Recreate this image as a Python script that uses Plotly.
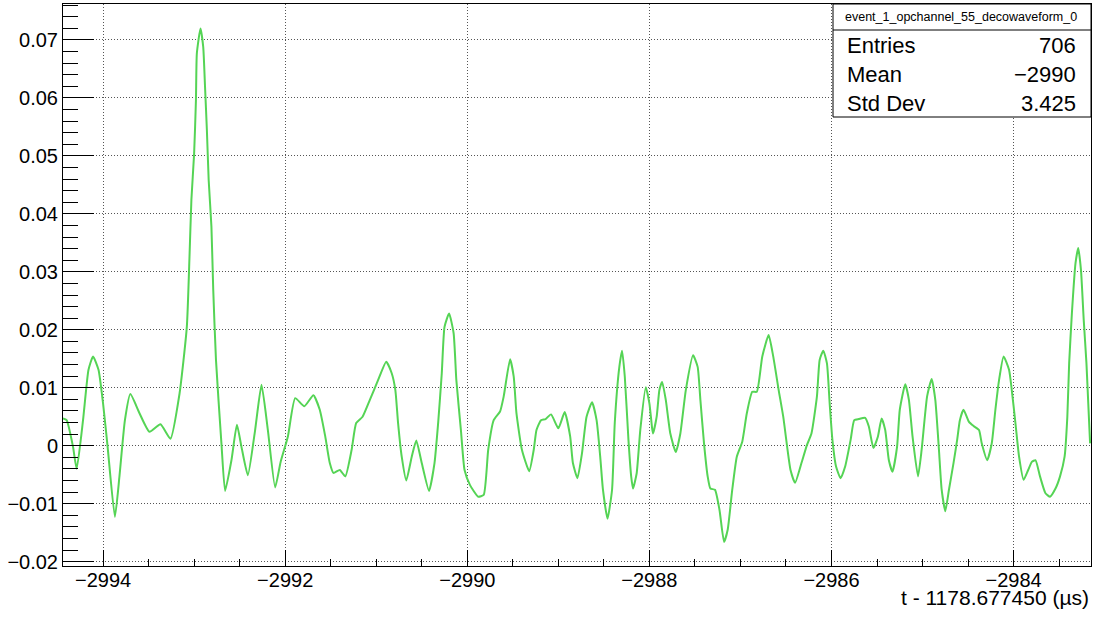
import plotly.graph_objects as go

# ---- data ----
t_us = [
    -2994.44, -2994.40, -2994.33, -2994.29, -2994.22, -2994.16, -2994.11, -2994.05, -2994.00, -2993.95,
    -2993.87, -2993.82, -2993.76, -2993.70, -2993.60, -2993.49, -2993.37, -2993.26, -2993.16, -2993.08,
    -2993.05, -2993.03, -2993.00, -2992.98, -2992.97, -2992.93, -2992.90, -2992.88, -2992.86, -2992.84,
    -2992.81, -2992.79, -2992.76, -2992.70, -2992.66, -2992.59, -2992.53, -2992.48, -2992.41,
    -2992.33, -2992.26, -2992.19, -2992.11, -2992.05, -2991.97, -2991.89, -2991.79, -2991.69, -2991.62,
    -2991.56, -2991.51, -2991.47, -2991.40, -2991.34, -2991.27, -2991.22, -2991.15, -2991.07, -2990.98,
    -2990.89, -2990.83, -2990.79, -2990.76, -2990.72, -2990.67, -2990.61, -2990.56, -2990.50, -2990.42,
    -2990.36,
    -2990.32, -2990.28, -2990.25, -2990.20, -2990.15, -2990.12, -2990.07, -2990.03, -2989.97, -2989.88,
    -2989.82, -2989.77, -2989.71, -2989.64, -2989.60, -2989.53, -2989.49, -2989.46, -2989.40, -2989.32,
    -2989.27, -2989.24, -2989.19, -2989.14, -2989.08, -2989.00, -2988.93, -2988.87, -2988.84, -2988.79,
    -2988.74, -2988.69, -2988.63, -2988.58, -2988.54, -2988.51, -2988.46, -2988.41, -2988.38, -2988.33,
    -2988.30, -2988.27, -2988.23, -2988.20, -2988.18, -2988.14, -2988.10, -2988.04, -2988.00, -2987.97,
    -2987.96, -2987.92, -2987.89, -2987.86, -2987.82, -2987.77, -2987.71, -2987.66, -2987.60, -2987.52,
    -2987.47, -2987.44, -2987.40, -2987.36, -2987.33, -2987.28, -2987.23, -2987.18, -2987.14, -2987.09,
    -2987.04, -2986.98, -2986.93, -2986.87, -2986.82, -2986.76, -2986.69, -2986.64, -2986.58, -2986.53,
    -2986.45,
    -2986.40, -2986.33, -2986.27, -2986.22, -2986.16, -2986.13, -2986.09, -2986.05, -2986.02, -2985.99,
    -2985.95, -2985.90, -2985.85, -2985.79, -2985.75, -2985.70, -2985.63, -2985.59, -2985.54, -2985.49,
    -2985.45, -2985.41, -2985.37, -2985.33, -2985.28, -2985.25, -2985.19, -2985.15, -2985.11, -2985.05,
    -2985.01, -2984.95, -2984.90, -2984.86, -2984.82, -2984.79, -2984.75, -2984.71, -2984.66, -2984.62,
    -2984.59,
    -2984.55, -2984.49, -2984.44, -2984.38, -2984.35, -2984.29, -2984.24, -2984.20, -2984.16, -2984.11,
    -2984.05, -2984.02, -2983.98, -2983.94, -2983.89, -2983.84, -2983.80, -2983.76, -2983.71, -2983.65,
    -2983.60, -2983.54, -2983.49, -2983.44, -2983.41, -2983.39, -2983.36, -2983.32, -2983.29, -2983.26,
    -2983.23, -2983.20, -2983.18, -2983.16,
]
amplitude = [
    0.0047, 0.0044, -0.0002, -0.0040, 0.0044, 0.0131, 0.0154, 0.0131, 0.0073, -0.0002,
    -0.0123, -0.0053, 0.0044, 0.0089, 0.0056, 0.0024, 0.0037, 0.0012, 0.0090, 0.0205,
    0.0330, 0.0424, 0.0504, 0.0596, 0.0677, 0.0720, 0.0688, 0.0619, 0.0545, 0.0458,
    0.0378, 0.0269, 0.0148, 0.0004, -0.0078, -0.0025, 0.0036, -0.0002, -0.0051,
    0.0027, 0.0105, 0.0027, -0.0072, -0.0028, 0.0016, 0.0082, 0.0068, 0.0087, 0.0062,
    0.0016, -0.0030, -0.0047, -0.0042, -0.0053, -0.0007, 0.0039, 0.0050, 0.0079, 0.0113,
    0.0145, 0.0125, 0.0096, 0.0039, -0.0019, -0.0060, -0.0019, 0.0009, -0.0030, -0.0078,
    -0.0030,
    0.0039, 0.0125, 0.0205, 0.0228, 0.0194, 0.0113, 0.0027, -0.0042, -0.0068, -0.0088,
    -0.0085, -0.0007, 0.0044, 0.0059, 0.0085, 0.0149, 0.0119, 0.0056, -0.0007, -0.0044,
    -0.0007, 0.0027, 0.0044, 0.0046, 0.0054, 0.0030, 0.0058, 0.0016, -0.0030, -0.0056,
    -0.0013, 0.0050, 0.0075, 0.0044, -0.0019, -0.0076, -0.0126, -0.0076, 0.0040, 0.0136,
    0.0164, 0.0119, 0.0010, -0.0053, -0.0074, -0.0048, 0.0027, 0.0101, 0.0073, 0.0030,
    0.0021, 0.0050, 0.0096, 0.0110, 0.0079, 0.0021, -0.0011, 0.0021, 0.0096, 0.0156,
    0.0136, 0.0079, 0.0004, -0.0053, -0.0074, -0.0076, -0.0111, -0.0166, -0.0145, -0.0076,
    -0.0019, 0.0007, 0.0056, 0.0093, 0.0093, 0.0154, 0.0191, 0.0154, 0.0096, 0.0050,
    -0.0042,
    -0.0064, -0.0030, 0.0001, 0.0021, 0.0085, 0.0148, 0.0164, 0.0142, 0.0073, 0.0010,
    -0.0036, -0.0056, -0.0036, 0.0010, 0.0044, 0.0046, 0.0048, 0.0033, -0.0004, 0.0016,
    0.0047, 0.0027, -0.0025, -0.0045, -0.0002, 0.0062, 0.0106, 0.0079, 0.0016, -0.0053,
    -0.0007, 0.0085, 0.0115, 0.0079, -0.0007, -0.0076, -0.0113, -0.0076, -0.0030, 0.0010,
    0.0044,
    0.0062, 0.0041, 0.0034, 0.0027, 0.0004, -0.0025, 0.0004, 0.0062, 0.0113, 0.0154,
    0.0131, 0.0096, 0.0039, -0.0019, -0.0059, -0.0042, -0.0028, -0.0025, -0.0053, -0.0082,
    -0.0088, -0.0074, -0.0053, -0.0019, 0.0050, 0.0142, 0.0228, 0.0315, 0.0341, 0.0303,
    0.0217, 0.0142, 0.0073, 0.0004,
]

x_tick_vals = [-2994, -2992, -2990, -2988, -2986, -2984]
x_tick_text = ["\u22122994", "\u22122992", "\u22122990", "\u22122988", "\u22122986", "\u22122984"]
y_tick_vals = [-0.02, -0.01, 0.0, 0.01, 0.02, 0.03, 0.04, 0.05, 0.06, 0.07]
y_tick_text = ["\u22120.02", "\u22120.01", "0", "0.01", "0.02", "0.03", "0.04", "0.05", "0.06", "0.07"]

hist_name = "event_1_opchannel_55_decowaveform_0"
stat_names = ["Entries", "Mean", "Std Dev"]
stat_values = ["706", "\u22122990", "3.425"]
x_title = "t - 1178.677450 (\u00b5s)"

FONT = "Liberation Sans, Arial, Helvetica, sans-serif"

fig = go.Figure()
fig.add_trace(go.Scatter(
    x=t_us, y=amplitude, mode="lines",
    line=dict(color="#55d455", width=2, shape="spline", smoothing=0.5),
    hoverinfo="x+y", showlegend=False,
))

W, H = 1094, 623
ML, MR, MT, MB = 63, 3, 4, 57
PW, PH = W - ML - MR, H - MT - MB

def px_x(px):
    return (px - ML) / PW

def px_y(py):
    return (H - MB - py) / PH

GRID = dict(showgrid=True, gridcolor="#555", griddash="1px,2px", gridwidth=1)

fig.update_layout(
    width=W, height=H,
    margin=dict(l=ML, r=MR, t=MT, b=MB),
    paper_bgcolor="white", plot_bgcolor="white",
    font=dict(family=FONT, color="black", size=20),
    xaxis=dict(
        range=[-2994.44, -2983.15],
        tickvals=x_tick_vals, ticktext=x_tick_text,
        ticks="inside", ticklen=16, tickcolor="black", tickwidth=1,
        showline=True, linecolor="black", linewidth=1, mirror=True,
        zeroline=False, ticklabelstandoff=-4,
        tickfont=dict(size=20, family=FONT),
        minor=dict(tick0=-2994, dtick=0.5, ticks="inside", ticklen=7,
                   tickcolor="black", showgrid=False),
        **GRID,
    ),
    yaxis=dict(
        range=[-0.02076, 0.07621],
        tickvals=y_tick_vals, ticktext=y_tick_text,
        ticks="inside", ticklen=31, tickcolor="black", tickwidth=1,
        showline=True, linecolor="black", linewidth=1, mirror=True,
        zeroline=False,
        tickfont=dict(size=20, family=FONT),
        minor=dict(tick0=0, dtick=0.002, ticks="inside", ticklen=15,
                   tickcolor="black", showgrid=False),
        **GRID,
    ),
)

# x-axis title, right aligned as in ROOT
fig.add_annotation(
    text=x_title, xref="paper", yref="paper", x=1, y=0,
    xanchor="right", yanchor="top", yshift=-18, showarrow=False,
    font=dict(size=21, family=FONT, color="black"),
)

# statistics box
bx0, bx1 = px_x(833), 1.0
by_top, by_bot, by_sep = 1.0, px_y(117), px_y(30)
fig.add_shape(type="rect", xref="paper", yref="paper",
              x0=bx0, x1=bx1, y0=by_bot, y1=by_top,
              line=dict(color="black", width=1), fillcolor="white", layer="above")
fig.add_shape(type="line", xref="paper", yref="paper",
              x0=bx0, x1=bx1, y0=by_sep, y1=by_sep,
              line=dict(color="black", width=1), layer="above")
fig.add_annotation(text=hist_name, xref="paper", yref="paper",
                   x=px_x(961), y=px_y(17), xanchor="center", yanchor="middle",
                   showarrow=False, font=dict(size=12.5, family=FONT, color="black"))
row_py = [46, 75, 103]
for name, val, py in zip(stat_names, stat_values, row_py):
    fig.add_annotation(text=name, xref="paper", yref="paper",
                       x=px_x(845), y=px_y(py), xanchor="left", yanchor="middle",
                       showarrow=False, font=dict(size=22, family=FONT, color="black"))
    fig.add_annotation(text=val, xref="paper", yref="paper",
                       x=px_x(1078), y=px_y(py), xanchor="right", yanchor="middle",
                       showarrow=False, font=dict(size=22, family=FONT, color="black"))

fig.write_html("out.html")
